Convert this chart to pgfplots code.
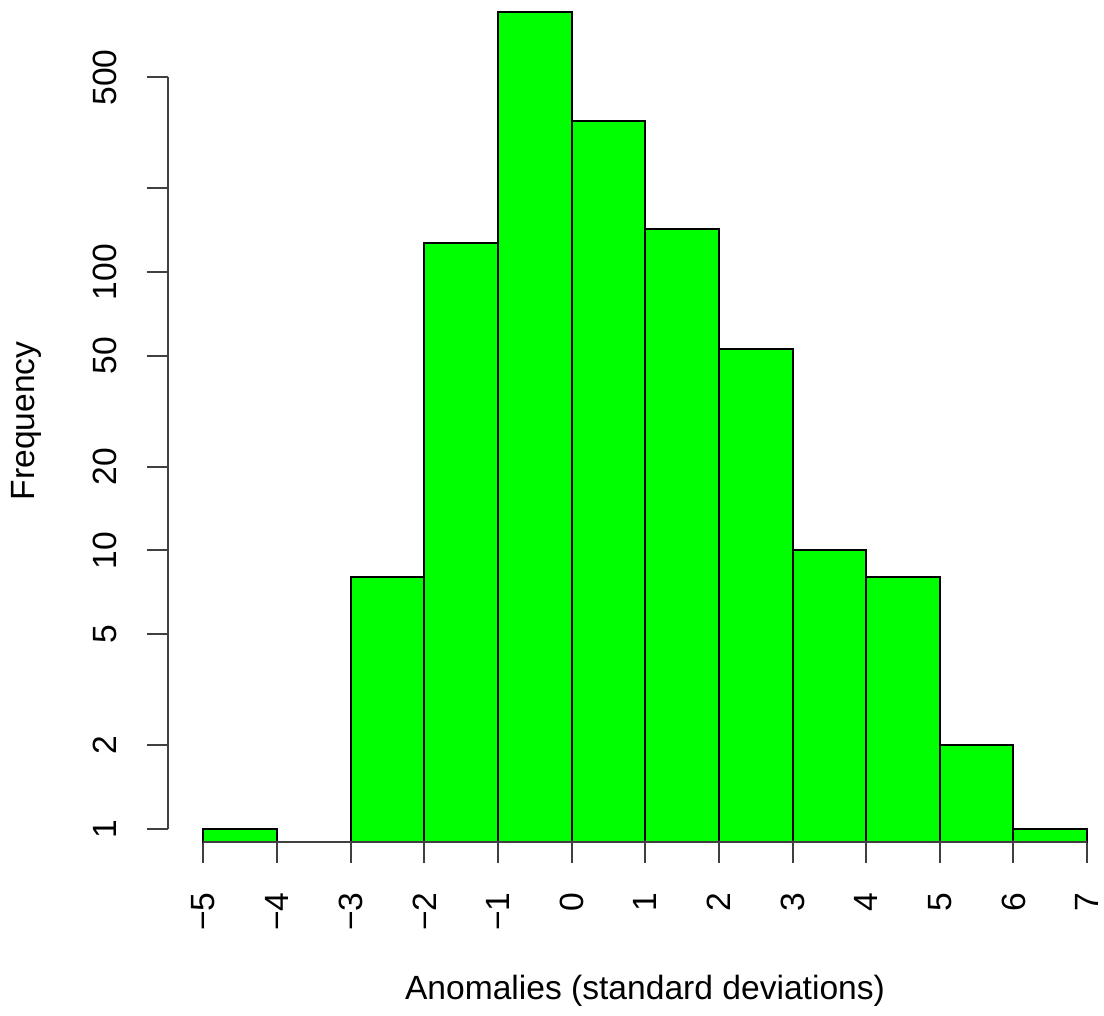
\documentclass[border=0pt]{standalone}
\usepackage{fontspec}
\setmainfont{Liberation Sans}
\usepackage{pgfplots}
\pgfplotsset{compat=1.18}
\definecolor{rgreen}{RGB}{0,255,0}
\begin{document}
\begin{tikzpicture}
\begin{axis}[
  scale only axis,
  width=280.8pt, height=252.6pt,
  xmin=-5.48, xmax=7.23,
  ymode=log, ymin=0.898, ymax=947.7,
  log origin=infty,
  axis lines*=left,
  axis line style={draw=none},
  clip=false,
  tick align=outside,
  major tick length=6.3pt,
  tick style={black!75, line width=0.6pt},
  xtick={-5,...,7},
  xticklabels={−5,−4,−3,−2,−1,0,1,2,3,4,5,6,7},
  ytick={1,2,5,10,20,50,100,200,500},
  yticklabels={1,2,5,10,20,50,100,,500},
  yminorticks=false, xminorticks=false,
  xticklabel style={rotate=90, anchor=east, inner sep=0pt, font=\fontsize{10.08}{12}\selectfont},
  yticklabel style={rotate=90, anchor=base, inner sep=0pt, font=\fontsize{10.08}{12}\selectfont},
  xticklabel shift=8.7pt,
  yticklabel shift=9.0pt,
]
\addplot[ybar, bar width=1, fill=rgreen, draw=black, line width=0.6pt] coordinates {
(-4.5,1) (-2.5,8) (-1.5,127) (-0.5,855) (0.5,349) (1.5,143) (2.5,53) (3.5,10) (4.5,8) (5.5,2) (6.5,1)};
\addplot[black!75, line width=0.6pt] coordinates {(-5,0.898) (7,0.898)};
\addplot[black!75, line width=0.6pt] coordinates {(-5.48,1) (-5.48,500)};
\coordinate (bl) at (rel axis cs:0,0);
\node[rotate=90, anchor=base, inner sep=0pt, font=\fontsize{10.08}{12}\selectfont] at (rel axis cs:-0.1421,0.5) {Frequency};
\node[anchor=base, inner sep=0pt, font=\fontsize{10.08}{12}\selectfont] at (rel axis cs:0.5096,-0.1876) {Anomalies (standard deviations)};
\end{axis}
\pgfresetboundingbox
\path ([shift={(-50.4pt,-51.9pt)}]bl) rectangle ([shift={(280.8pt,252.6pt)}]bl);
\end{tikzpicture}
\end{document}
